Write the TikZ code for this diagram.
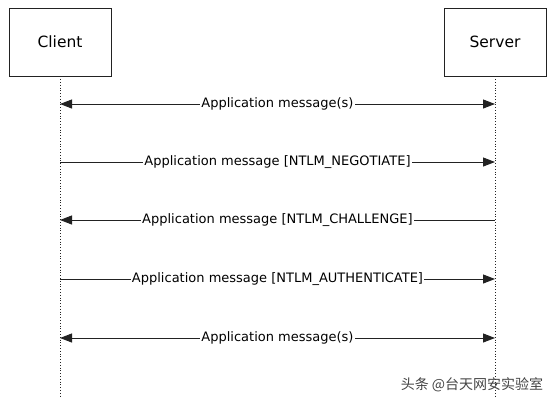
\documentclass[tikz,border=0pt]{standalone}
\usepackage{fontspec}
\setmainfont{DejaVu Sans}
\newfontfamily\cjk{Noto Sans CJK SC}
\usetikzlibrary{arrows.meta}
\definecolor{line}{HTML}{222222}
\definecolor{mark}{HTML}{444444}

\begin{document}
\begin{tikzpicture}[x=1pt, y=-1pt,
    actor/.style={draw=line, line width=0.9pt, minimum width=102pt, minimum height=68pt, font=\fontsize{15.5}{18}\selectfont},
    lifeline/.style={draw=line, line width=0.8pt, dotted},
    msg/.style={draw=line, line width=1pt, -{Triangle[length=12pt, width=9pt]}},
    both/.style={msg, {Triangle[length=12pt, width=9pt]}-{Triangle[length=12pt, width=9pt]}},
    txt/.style={fill=white, inner xsep=1pt, inner ysep=2pt, font=\fontsize{13}{15}\selectfont}]
    \useasboundingbox (0,0) rectangle (554,407);

    \node at (60, 42) (client) [actor] {Client};
    \node at (495, 42) (server) [actor] {Server};
    \coordinate (clientend) at (60, 397);
    \coordinate (serverend) at (495, 397);
    \draw[lifeline] (client.south) -- (clientend);
    \draw[lifeline] (server.south) -- (serverend);

    % message rows
    \foreach \n/\y in {1/104, 2/162, 3/220, 4/279, 5/338} {
      \coordinate (c\n) at (60, \y);
      \coordinate (s\n) at (495, \y);
    }

    \draw[both] (c1) -- node[txt] {Application message(s)} (s1);
    \draw[msg] (c2) -- node[txt] {Application message [NTLM\_NEGOTIATE]} (s2);
    \draw[msg] (s3) -- node[txt] {Application message [NTLM\_CHALLENGE]} (c3);
    \draw[msg] (c4) -- node[txt] {Application message [NTLM\_AUTHENTICATE]} (s4);
    \draw[both] (c5) -- node[txt] {Application message(s)} (s5);

    \node at (472, 385) (watermark) [text=mark, font=\cjk\fontsize{14}{16}\selectfont] {头条 @台天网安实验室};
\end{tikzpicture}
\end{document}
